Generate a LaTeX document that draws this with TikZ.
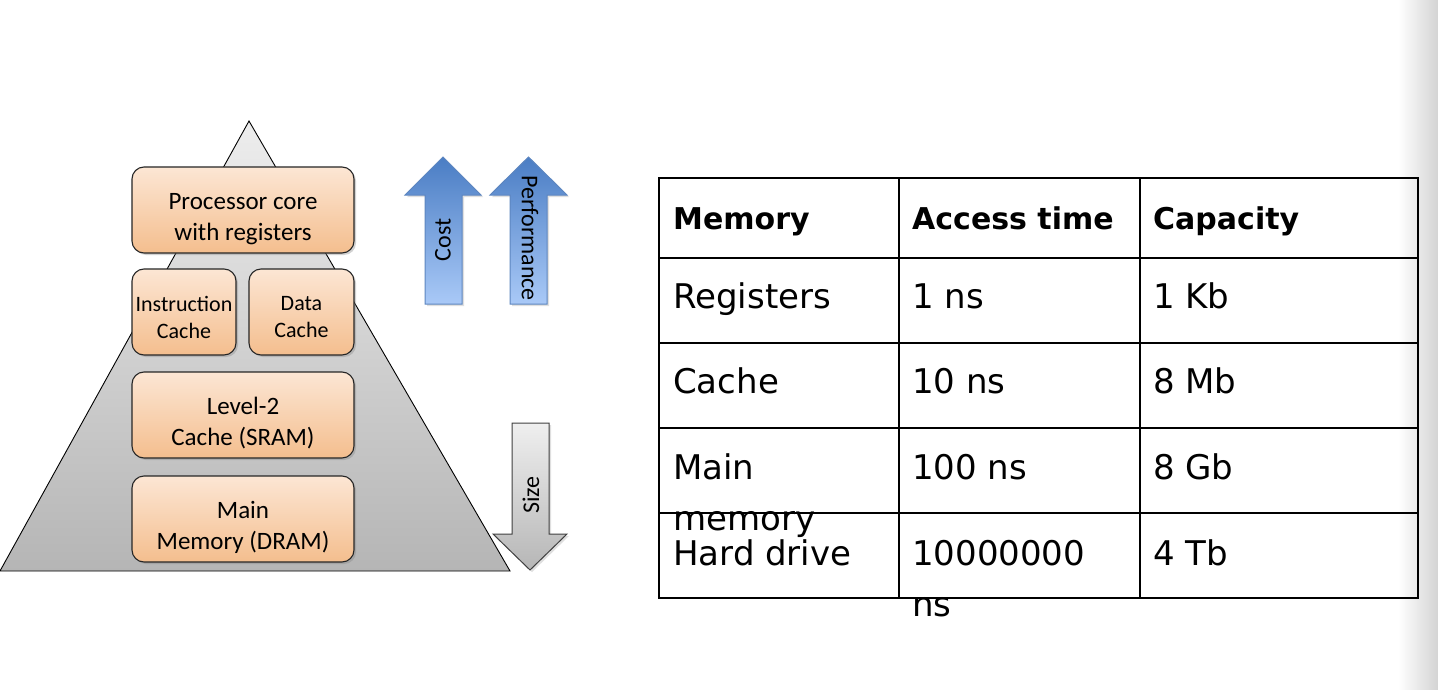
\documentclass[tikz,border=0pt]{standalone}
\usepackage{fontspec}
\setmainfont{Carlito}
\newfontfamily\tabfont{DejaVu Sans}
\usetikzlibrary{shadows}
\definecolor{peachtop}{HTML}{FCE6D4}
\definecolor{peachbot}{HTML}{F4BE8E}
\definecolor{bluetop}{HTML}{4A7DC4}
\definecolor{bluebot}{HTML}{A9C9F7}
\definecolor{blueedge}{HTML}{5D86C0}
\definecolor{graytop}{HTML}{EFEFEF}
\definecolor{graybot}{HTML}{B6B6B6}
\begin{document}
\begin{tikzpicture}[x=1pt,y=-1pt,
  membox/.style={draw=black!85, line width=1.1pt, rounded corners=12pt,
    top color=peachtop, bottom color=peachbot, inner sep=0pt,
    minimum height=86pt,
    drop shadow={shadow xshift=2pt, shadow yshift=-2pt, opacity=0.35}},
  boxtext/.style={align=center, inner sep=0pt, font=\fontsize{25}{31}\selectfont},
  smalltext/.style={align=center, inner sep=0pt, font=\fontsize{22}{27}\selectfont},
  arrowtext/.style={inner sep=0pt, font=\fontsize{24}{28}\selectfont},
  bluearrow/.style={draw=blueedge, line width=1pt, top color=bluetop, bottom color=bluebot,
    drop shadow={shadow xshift=2pt, shadow yshift=-2pt, opacity=0.25}},
  grayarrow/.style={draw=black!75, line width=1pt, top color=graytop, bottom color=graybot,
    drop shadow={shadow xshift=2pt, shadow yshift=-2pt, opacity=0.25}},
  tabline/.style={line width=2.8pt, black},
  cellhead/.style={anchor=base west, inner sep=0pt, font=\tabfont\bfseries\fontsize{30}{36}\selectfont},
  cell/.style={anchor=base west, inner sep=0pt, font=\tabfont\fontsize{34}{40}\selectfont}
]
\useasboundingbox (0,0) rectangle (1438,690);
\fill[white] (0,0) rectangle (1438,690);
% right edge shading
\shade[left color=white, right color=black!17] (1398,0) rectangle (1438,690);

% pyramid
\shade[top color=black!7, bottom color=black!29, draw=black, line width=0.9pt]
  (249,121) -- (510,571) -- (0,571) -- cycle;

% memory boxes
\node[membox, minimum width=222pt] (pc) at (243,210) {};
\node[boxtext] (pct) at ([yshift=-9pt]pc.center) {Processor core\\with registers};
\node[membox, minimum width=104pt] (ic) at (184,312) {};
\node[smalltext] (ict) at ([yshift=-5pt]ic.center) {Instruction\\Cache};
\node[membox, minimum width=105pt] (dc) at (301.5,312) {};
\node[smalltext] (dct) at ([yshift=-5pt]dc.center) {Data\\Cache};
\node[membox, minimum width=222pt] (l2) at (243,415) {};
\node[boxtext] (l2t) at ([yshift=-8pt]l2.center) {Level-2\\Cache (SRAM)};
\node[membox, minimum width=222pt] (mm) at (243,519) {};
\node[boxtext] (mmt) at ([yshift=-8pt]mm.center) {Main\\Memory (DRAM)};

% arrows
\path[bluearrow] (425,304) -- (425,195) -- (405,195) -- (443,157) -- (481,195)
  -- (462,195) -- (462,304) -- cycle;
\node[arrowtext, rotate=90] (cost) at (443,240) {Cost};
\path[bluearrow] (510,304) -- (510,195) -- (490,195) -- (528.5,157) -- (567,195)
  -- (547,195) -- (547,304) -- cycle;
\node[arrowtext, rotate=-90] (perf) at (530,238) {Performance};
\path[grayarrow] (512,423) -- (549,423) -- (549,534) -- (567,534) -- (530,570)
  -- (493,534) -- (512,534) -- cycle;
\node[arrowtext, rotate=90] (size) at (531,495) {Size};

% table
\draw[tabline] (659,178) rectangle (1418,598);
\foreach \yy in {258,343,428,513} \draw[tabline] (659,\yy) -- (1418,\yy);
\draw[tabline] (899,178) -- (899,598);
\draw[tabline] (1140,178) -- (1140,598);

\node[cellhead] (h1) at (673,229) {Memory};
\node[cellhead] (h2) at (912,229) {Access time};
\node[cellhead] (h3) at (1153,229) {Capacity};

\node[cell] (r1a) at (673,308) {Registers};
\node[cell] (r1b) at (912,308) {1 ns};
\node[cell] (r1c) at (1153,308) {1 Kb};

\node[cell] (r2a) at (673,393) {Cache};
\node[cell] (r2b) at (912,393) {10 ns};
\node[cell] (r2c) at (1153,393) {8 Mb};

\node[cell] (r3a) at (673,479) {Main};
\node[cell] (r3a2) at (673,530) {memory};
\node[cell] (r3b) at (912,479) {100 ns};
\node[cell] (r3c) at (1153,479) {8 Gb};

\node[cell] (r4a) at (673,565) {Hard drive};
\node[cell] (r4b) at (912,565) {10000000};
\node[cell] (r4b2) at (912,616) {ns};
\node[cell] (r4c) at (1153,565) {4 Tb};
\end{tikzpicture}
\end{document}
